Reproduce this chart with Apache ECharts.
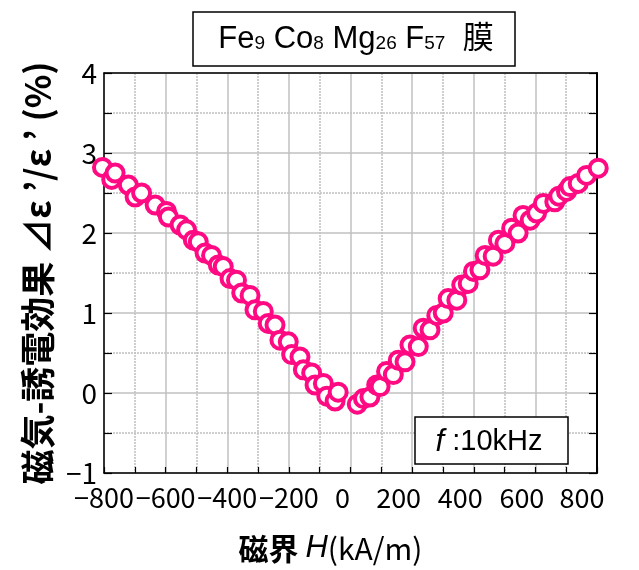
<!DOCTYPE html>
<html>
<head>
<meta charset="utf-8">
<script src="https://cdn.jsdelivr.net/npm/echarts@6/dist/echarts.min.js"></script>
<style>
  html, body { margin: 0; padding: 0; background: #fff; }
  #chart { width: 639px; height: 570px; }
</style>
</head>
<body>
<div id="chart"></div>
<script>
// 磁界 H (kA/m) と 磁気-誘電効果 (%) ... 負側
const hNeg = [-805, -775, -764, -721, -699, -678, -634, -597, -591, -553, -532, -510, -494, -472, -451, -429, -413, -391, -370, -353, -326, -310, -283, -267, -245, -229, -202, -191, -164, -153, -126, -115, -88, -77, -50, -40]
const deNeg = [2.82, 2.67, 2.75, 2.60, 2.45, 2.50, 2.35, 2.27, 2.20, 2.10, 2.04, 1.91, 1.89, 1.75, 1.72, 1.60, 1.58, 1.43, 1.41, 1.25, 1.22, 1.04, 1.02, 0.87, 0.85, 0.66, 0.64, 0.48, 0.45, 0.29, 0.25, 0.10, 0.12, -0.04, -0.10, 0.01]
// 正側
const hPos = [22, 42, 63, 85, 96, 117, 139, 155, 177, 193, 220, 236, 258, 280, 301, 317, 345, 361, 382, 399, 420, 437, 463, 480, 501, 523, 544, 560, 583, 604, 626, 663, 676, 701, 712, 739, 766, 804]
const dePos = [-0.14, -0.07, -0.05, 0.10, 0.08, 0.27, 0.23, 0.41, 0.39, 0.60, 0.58, 0.81, 0.79, 0.97, 1.00, 1.18, 1.16, 1.35, 1.37, 1.52, 1.54, 1.72, 1.71, 1.91, 1.87, 2.06, 2.00, 2.22, 2.16, 2.25, 2.37, 2.39, 2.46, 2.52, 2.58, 2.62, 2.72, 2.81]

const titleText = 'Fe{s|9} Co{s|8} Mg{s|26} F{s|57}  膜'
const freqText = '{i|f} :10kHz'

const pink = '#ff0a82'
const gridGray = '#c0c0c0'
const jp = '"Noto Sans CJK JP", sans-serif'
const lat = '"Liberation Sans", "Noto Sans CJK JP", sans-serif'

function minus (v) {
  return String(v).replace('-', '\u2212')
}

let points = hNeg.map((h, i) => [h, deNeg[i]]).concat(hPos.map((h, i) => [h, dePos[i]]))

let chart = echarts.init(document.getElementById('chart'))
let option = {
  animation: false,
  backgroundColor: '#fff',
  grid: { left: 104, right: 42, top: 73, bottom: 97 },
  xAxis: [
    {
      type: 'value',
      min: -800,
      max: 800,
      interval: 200,
      name: '磁界 {i|H}{l|(kA/m)}',
      nameLocation: 'middle',
      nameGap: 60,
      nameTextStyle: {
        fontFamily: jp,
        fontSize: 30,
        fontWeight: 'bold',
        color: '#000',
        padding: [0, 40, 0, 0],
        rich: {
          i: { fontFamily: lat, fontStyle: 'italic', fontWeight: 'normal', fontSize: 31, color: '#000' },
          l: { fontFamily: jp, fontWeight: 'normal', fontSize: 30, color: '#000' }
        }
      },
      axisLine: { onZero: false, lineStyle: { color: '#000', width: 1.5 } },
      axisTick: { inside: true, length: 6, lineStyle: { color: '#000', width: 1.2 } },
      minorTick: { show: true, splitNumber: 2, length: 6, lineStyle: { color: '#000', width: 1.2 } },
      splitLine: { show: true, lineStyle: { color: gridGray, width: 1.5 } },
      minorSplitLine: { show: true, lineStyle: { color: gridGray, width: 1.5, type: [2, 1] } },
      axisLabel: {
        margin: 11,
        showMinLabel: true,
        showMaxLabel: true,
        formatter: function (v) {
          if (v === 0) return '{z|0}'
          if (v === 800) return '{e|800}'
          if (v > 0) return '{p|' + v + '}'
          return '{n|' + minus(v) + '}'
        },
        rich: {
          n: { fontFamily: jp, fontSize: 27, color: '#000' },
          z: { fontFamily: jp, fontSize: 27, color: '#000', padding: [0, 16, 0, 0] },
          p: { fontFamily: jp, fontSize: 27, color: '#000', padding: [0, 27, 0, 0] },
          e: { fontFamily: jp, fontSize: 27, color: '#000', padding: [0, 30, 0, 0] }
        }
      }
    },
    {
      type: 'value',
      position: 'top',
      min: -800,
      max: 800,
      interval: 200,
      axisLine: { show: true, onZero: false, lineStyle: { color: '#000', width: 1.5 } },
      axisTick: { show: false },
      axisLabel: { show: false },
      splitLine: { show: false }
    }
  ],
  yAxis: [
    {
      type: 'value',
      min: -1,
      max: 4,
      interval: 1,
      name: '磁気-誘電効果 ⊿ε ’/ε ’ (%)',
      nameLocation: 'middle',
      nameRotate: 90,
      nameGap: 48,
      nameTextStyle: { fontFamily: jp, fontSize: 35, fontWeight: 'bold', color: '#000' },
      axisLine: { onZero: false, lineStyle: { color: '#000', width: 1.5 } },
      axisTick: { inside: true, length: 8, lineStyle: { color: '#000', width: 1.2 } },
      minorTick: { show: true, splitNumber: 2, length: 8, lineStyle: { color: '#000', width: 1.2 } },
      splitLine: { show: true, lineStyle: { color: gridGray, width: 1.5 } },
      minorSplitLine: { show: true, lineStyle: { color: gridGray, width: 1.5, type: [2, 1] } },
      axisLabel: {
        margin: 7,
        fontFamily: jp,
        fontSize: 28,
        color: '#000',
        showMinLabel: true,
        showMaxLabel: true,
        formatter: minus
      }
    },
    {
      type: 'value',
      position: 'right',
      min: -1,
      max: 4,
      interval: 1,
      axisLine: { show: true, onZero: false, lineStyle: { color: '#000', width: 2 } },
      axisTick: { show: true, inside: true, length: 8, lineStyle: { color: '#000', width: 1.2 } },
      minorTick: { show: true, splitNumber: 2, length: 8, lineStyle: { color: '#000', width: 1.2 } },
      axisLabel: { show: false },
      splitLine: { show: false }
    }
  ],
  graphic: [
    {
      type: 'rect',
      shape: { x: 193, y: 12, width: 322, height: 54 },
      style: { fill: '#fff', stroke: '#000', lineWidth: 1.5 },
      z: 10
    },
    {
      type: 'text',
      x: 356,
      y: 39,
      z: 11,
      style: {
        text: titleText,
        align: 'center',
        verticalAlign: 'middle',
        fontFamily: lat,
        fontSize: 31,
        fill: '#000',
        rich: {
          s: { fontFamily: lat, fontSize: 19, verticalAlign: 'bottom', padding: [0, 0, 1, 0] }
        }
      }
    },
    {
      type: 'rect',
      shape: { x: 415, y: 417, width: 153, height: 47 },
      style: { fill: '#fff', stroke: '#000', lineWidth: 1.5 },
      z: 10
    },
    {
      type: 'text',
      x: 489,
      y: 442,
      z: 11,
      style: {
        text: freqText,
        align: 'center',
        verticalAlign: 'middle',
        fontFamily: lat,
        fontSize: 29,
        fill: '#000',
        rich: {
          i: { fontFamily: lat, fontStyle: 'italic', fontSize: 31 }
        }
      }
    }
  ],
  series: [
    {
      type: 'scatter',
      clip: false,
      symbol: 'circle',
      symbolSize: 17,
      itemStyle: { color: '#fff', borderColor: pink, borderWidth: 4, opacity: 1 },
      data: points,
      z: 5
    }
  ]
}
chart.setOption(option)
window.addEventListener('resize', function () { chart.resize() })
</script>
</body>
</html>
